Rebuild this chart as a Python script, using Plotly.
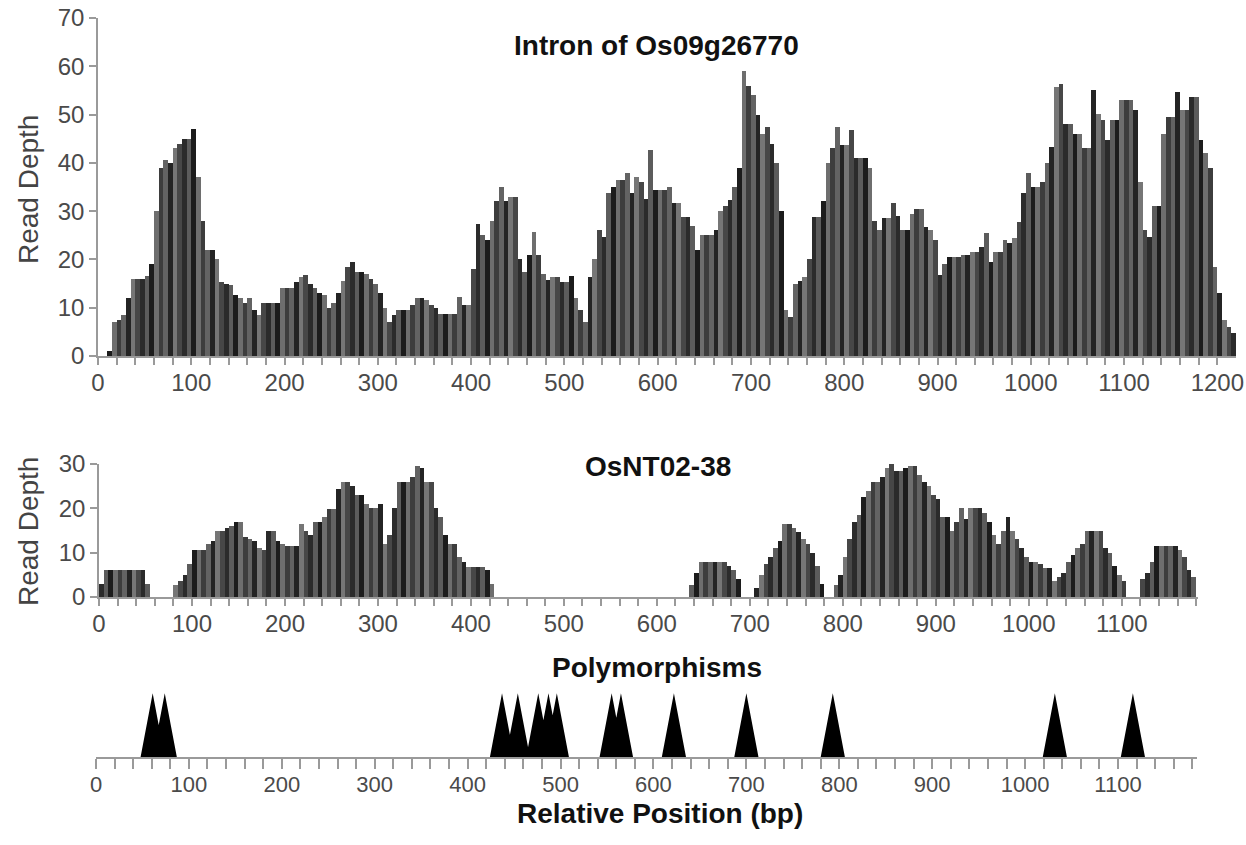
import plotly.graph_objects as go

# ---------------- data ----------------
BIN = 5  # bp per bar

# Read depth of the intron of Os09g26770, one value per 5 bp bin starting at 0
intron_depth = [
    0, 0, 1, 7, 7.5, 8.5, 12, 16, 16, 16,
    16.5, 19, 30, 39, 40.5, 40, 43, 44, 45, 45,
    47, 37, 28, 22, 22, 20, 15.4, 15, 14.7, 12.6,
    12, 11, 12, 9.5, 8.5, 11, 11, 11, 11, 14,
    14, 14, 15.4, 16.4, 16.8, 15, 14, 13, 12.6, 10,
    11, 13, 15.5, 18.5, 19.5, 17.4, 17.4, 17, 16, 15,
    13, 10, 7, 8.5, 9.5, 9.5, 9.5, 10.5, 12, 12,
    11.5, 10.5, 10, 8.7, 8.7, 8.7, 8.7, 12.3, 10.5, 10.5,
    18, 27.4, 25, 24, 28, 32, 35, 32, 33, 33,
    20, 17.4, 21, 25.7, 21, 17, 15.7, 16.4, 16.4, 15.4,
    15.4, 16.5, 12, 9.5, 7, 16.4, 20, 26, 24.7, 33.7,
    35, 36.4, 36.4, 38, 33.7, 37, 36, 32.6, 42.6, 34.3,
    34.3, 34.3, 35, 31.6, 31.6, 28.8, 28.8, 27, 22, 25,
    25, 25, 26, 30, 31, 32.3, 35, 39, 59, 56,
    54, 50, 46, 47.4, 44, 40, 30, 9.5, 8, 15,
    15.5, 16.4, 20, 28.8, 28.8, 32, 40, 43, 47.4, 43.7,
    43.7, 46.8, 41, 41, 41, 39, 28, 26, 28.5, 28.5,
    31.6, 29, 26, 26, 29.5, 30.5, 30.5, 26.8, 26, 24,
    16.8, 19, 20.5, 20.5, 20.5, 21, 21, 21.6, 21.6, 22.5,
    25.4, 19.5, 21.6, 21.6, 24, 23.3, 24.5, 27.8, 33.7, 38,
    35, 35, 36, 40, 43.3, 55.7, 56.4, 48, 48, 46,
    46, 43, 43, 55, 50.2, 48.8, 44.7, 48.8, 48.8, 53,
    53, 53, 51, 36, 26, 24.7, 31, 31, 46, 49.5,
    49.5, 54.7, 51, 51, 53.7, 53.7, 44.7, 42, 39, 18.5,
    13, 7.4, 6, 4.7,
]

# Read depth of OsNT02-38, one value per 5 bp bin starting at 0
osnt_depth = [
    3, 6, 6, 6, 6, 6, 6, 6, 6, 6,
    3, 0, 0, 0, 0, 0, 2.6, 3.7, 5, 7.5,
    10.5, 10.5, 10.5, 12, 12.7, 15, 15, 15.5, 16, 17,
    17, 13.5, 13, 12.7, 11, 10.5, 15, 15, 12.7, 12,
    11.6, 11.6, 11.6, 16.5, 15, 13.9, 17, 17, 18, 19.9,
    19.9, 24.4, 26, 26, 25, 23, 23, 21, 20, 20,
    21, 12, 14, 20, 26, 26, 26, 27, 29.5, 29,
    26, 26, 20, 18, 14, 12, 12, 9, 8, 6.8,
    6.8, 6.8, 6.8, 6, 3, 0, 0, 0, 0, 0,
    0, 0, 0, 0, 0, 0, 0, 0, 0, 0,
    0, 0, 0, 0, 0, 0, 0, 0, 0, 0,
    0, 0, 0, 0, 0, 0, 0, 0, 0, 0,
    0, 0, 0, 0, 0, 0, 0, 2.6, 5.5, 8,
    8, 8, 8, 8, 8, 7, 6, 4, 0, 0,
    0, 2, 5, 7.5, 9, 11, 12.7, 16.5, 16.5, 15.5,
    14.6, 13, 12, 10, 7, 3, 0, 0, 2.6, 5,
    9, 13, 17, 18.5, 22.5, 24, 26, 26, 27, 29,
    30, 28.5, 28.5, 29, 29.5, 29.5, 27.5, 26, 25, 23,
    22, 18, 18, 15, 17, 20, 17.5, 20, 20, 20,
    19, 17, 14, 12, 15, 18, 15, 13, 11, 9,
    8, 8, 7.5, 6.5, 6.5, 3.5, 4.5, 5.5, 8, 9.5,
    11, 12, 15, 15, 15, 15, 11, 10, 7, 5,
    3.5, 0, 0, 0, 4, 5.5, 8, 11.5, 11.5, 11.5,
    11.5, 11.5, 10.5, 9, 6, 4.5,
]

# Positions (bp) of polymorphisms
polymorphisms = [61, 74, 437, 454, 476, 487, 496, 555, 565, 622, 700, 793, 1032, 1116]

top_yticks = [0, 10, 20, 30, 40, 50, 60, 70]
mid_yticks = [0, 10, 20, 30]
top_xticks = list(range(0, 1201, 20))
mid_xticks = list(range(0, 1181, 20))
bot_xticks = list(range(0, 1181, 20))

# ---------------- styles ----------------
W, H = 1246, 845
FONT = "Liberation Sans, Arial, Helvetica, sans-serif"
TICK_COLOR = "#4a4a4a"
AXIS_COLOR = "#9a9a9a"
SHADES = ["#2b2b2b", "#5c5c5c", "#1c1c1c", "#6e6e6e", "#3d3d3d",
          "#636363", "#242424", "#767676", "#474747"]
TRI_HALF = 13  # half base width of polymorphism markers (bp)


def px_x(p):
    return p / W


def px_y(p):
    return 1 - p / H


def labels(vals):
    return [str(v) if v % 100 == 0 else "" for v in vals]


def shade_list(n):
    return [SHADES[i % len(SHADES)] for i in range(n)]


fig = go.Figure()

fig.add_trace(go.Bar(
    x=[i * BIN + BIN / 2 for i in range(len(intron_depth))], y=intron_depth,
    width=BIN, marker=dict(color=shade_list(len(intron_depth)), line=dict(width=0)),
    xaxis="x", yaxis="y", showlegend=False, hoverinfo="skip"))

fig.add_trace(go.Bar(
    x=[i * BIN + BIN / 2 for i in range(len(osnt_depth))], y=osnt_depth,
    width=BIN, marker=dict(color=shade_list(len(osnt_depth)), line=dict(width=0)),
    xaxis="x2", yaxis="y2", showlegend=False, hoverinfo="skip"))

tx, ty = [], []
for p in polymorphisms:
    tx += [p - TRI_HALF, p, p + TRI_HALF, p - TRI_HALF, None]
    ty += [0, 1, 0, 0, None]
fig.add_trace(go.Scatter(
    x=tx, y=ty, mode="lines", fill="toself", fillcolor="black",
    line=dict(width=0, color="black"), xaxis="x3", yaxis="y3",
    showlegend=False, hoverinfo="skip"))


def x_axis(size):
    return dict(showline=True, linecolor=AXIS_COLOR, linewidth=1.5,
                ticks="outside", tickcolor=AXIS_COLOR, tickwidth=1.5,
                showgrid=False, zeroline=False, automargin=False,
                ticklabelstandoff=-3,
                tickfont=dict(family=FONT, size=size, color=TICK_COLOR))


common_y = dict(showline=True, linecolor=AXIS_COLOR, linewidth=1.5,
                ticks="outside", tickcolor=AXIS_COLOR, tickwidth=1.5, ticklen=7,
                showgrid=False, zeroline=False, automargin=False,
                tickfont=dict(family=FONT, size=24, color=TICK_COLOR))


def note(text, x, y, size, color="#111", angle=0):
    return dict(text=text, x=px_x(x), y=px_y(y), xref="paper", yref="paper",
                xanchor="center", yanchor="middle", showarrow=False,
                textangle=angle, font=dict(family=FONT, size=size, color=color))


fig.update_layout(
    width=W, height=H, margin=dict(l=0, r=0, t=0, b=0, autoexpand=False),
    paper_bgcolor="white", plot_bgcolor="white", bargap=0,
    xaxis=dict(domain=[px_x(98), px_x(1236)], range=[0, 1220], anchor="y",
               tickvals=top_xticks, ticktext=labels(top_xticks), ticklen=7, **x_axis(24)),
    yaxis=dict(domain=[px_y(356), px_y(18)], range=[0, 70], anchor="x",
               tickvals=top_yticks, **common_y),
    xaxis2=dict(domain=[px_x(99), px_x(1198)], range=[0, 1182], anchor="y2",
                tickvals=mid_xticks, ticktext=labels(mid_xticks), ticklen=7, **x_axis(24)),
    yaxis2=dict(domain=[px_y(597), px_y(464)], range=[0, 30], anchor="x2",
                tickvals=mid_yticks, **common_y),
    xaxis3=dict(domain=[px_x(96), px_x(1197)], range=[0, 1185], anchor="y3",
                tickvals=bot_xticks, ticktext=labels(bot_xticks), ticklen=10, **x_axis(22)),
    yaxis3=dict(domain=[px_y(757), px_y(690)], range=[0, 1.05], anchor="x3",
                visible=False),
    annotations=[
        note("<b>Intron of Os09g26770</b>", 656, 45, 28),
        note("<b>OsNT02-38</b>", 658, 467, 28),
        note("<b>Polymorphisms</b>", 657, 667, 28),
        note("<b>Relative Position (bp)</b>", 660, 813, 28),
        note("Read Depth", 28, 190, 28, color="#444", angle=-90),
        note("Read Depth", 28, 532, 28, color="#444", angle=-90),
    ],
)

fig.write_html("out.html")
